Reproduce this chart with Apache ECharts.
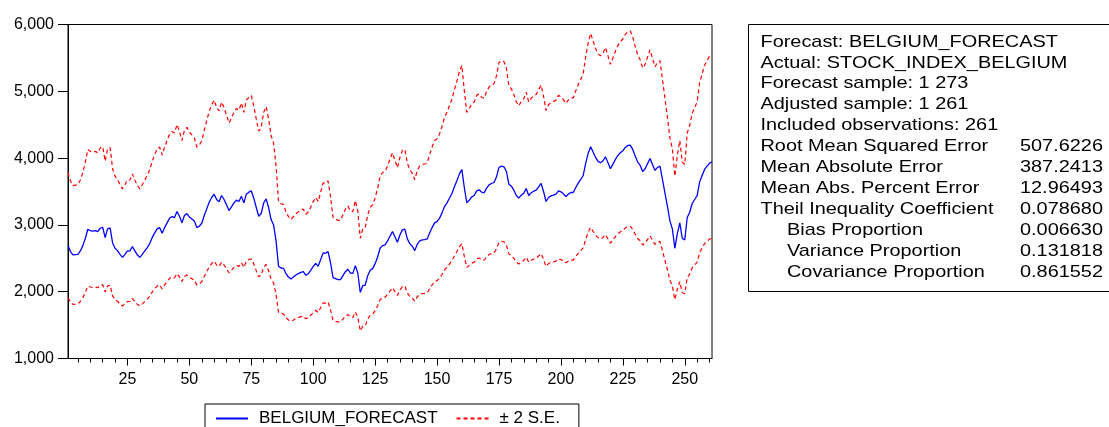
<!DOCTYPE html>
<html>
<head>
<meta charset="utf-8">
<script src="https://cdn.jsdelivr.net/npm/echarts@6/dist/echarts.min.js"></script>
<style>
html,body{margin:0;padding:0;background:#fff;}
#chart{width:1109px;height:427px;}
</style>
</head>
<body>
<div id="chart"></div>
<script>
const categories = Array.from({length: 261}, (_, i) => String(i + 1));

const forecast = [
2690,2600,2550,2555,2560,2610,2690,2800,2935,2915,
2905,2915,2900,2950,2965,2810,2940,2955,2730,2650,
2615,2560,2515,2560,2610,2610,2675,2610,2550,2515,
2560,2610,2660,2720,2810,2880,2940,2960,2875,2960,
3030,3100,3125,3110,3200,3130,3030,3140,3170,3120,
3090,3060,2960,2980,3025,3140,3240,3340,3410,3460,
3380,3345,3440,3380,3300,3215,3270,3330,3370,3350,
3430,3330,3460,3490,3510,3400,3260,3130,3170,3330,
3390,3260,3080,3000,2760,2380,2355,2350,2270,2220,
2190,2220,2250,2270,2290,2300,2245,2270,2320,2380,
2425,2380,2480,2580,2575,2600,2430,2210,2195,2180,
2180,2240,2300,2335,2280,2275,2390,2280,1990,2090,
2100,2240,2320,2345,2420,2520,2650,2690,2700,2760,
2830,2900,2820,2740,2850,2925,2935,2790,2720,2680,
2615,2710,2760,2775,2780,2790,2880,2960,3030,3050,
3100,3180,3275,3330,3400,3470,3570,3660,3760,3830,
3560,3330,3370,3420,3440,3510,3525,3490,3480,3550,
3600,3620,3635,3720,3860,3880,3870,3800,3610,3580,
3520,3440,3400,3445,3475,3545,3440,3480,3505,3520,
3570,3620,3500,3350,3410,3435,3445,3460,3510,3495,
3465,3425,3460,3485,3485,3560,3625,3680,3740,3920,
4070,4170,4090,4010,3950,3930,3960,4020,3930,3840,
3910,3980,4040,4080,4110,4160,4190,4195,4130,4030,
3940,3890,3800,3840,3920,3995,3900,3815,3860,3880,
3680,3480,3280,3060,2940,2650,2870,3030,2800,2775,
3110,3190,3320,3380,3440,3640,3740,3830,3880,3925,
3945
];

const upperBand = [
3785,3658,3588,3595,3602,3672,3785,3940,4130,4101,
4087,4101,4080,4151,4172,3954,4137,4158,3841,3729,
3679,3602,3539,3602,3672,3672,3764,3672,3588,3539,
3602,3672,3743,3827,3954,4052,4137,4165,4045,4165,
4263,4362,4397,4376,4502,4404,4263,4418,4460,4390,
4348,4305,4165,4193,4256,4418,4559,4699,4798,4868,
4756,4706,4840,4756,4643,4524,4601,4685,4742,4714,
4826,4685,4868,4910,4939,4784,4587,4404,4460,4685,
4770,4587,4334,4221,3883,3349,3314,3307,3194,3124,
3081,3124,3166,3194,3222,3236,3159,3194,3264,3349,
3412,3349,3489,3630,3623,3658,3419,3110,3088,3067,
3067,3152,3236,3285,3208,3201,3363,3208,2800,2941,
2955,3152,3264,3299,3405,3546,3729,3785,3799,3883,
3982,4080,3968,3855,4010,4116,4130,3926,3827,3771,
3679,3813,3883,3904,3912,3926,4052,4165,4263,4291,
4362,4474,4608,4685,4784,4882,5023,5150,5290,5389,
5009,4685,4742,4812,4840,4939,4960,4910,4896,4995,
5065,5093,5114,5234,5431,5459,5445,5347,5079,5037,
4953,4840,4784,4847,4889,4988,4840,4896,4932,4953,
5023,5093,4925,4714,4798,4833,4847,4868,4939,4918,
4875,4819,4868,4903,4903,5009,5100,5178,5262,5515,
5727,5867,5755,5642,5558,5530,5572,5656,5530,5403,
5501,5600,5684,5741,5783,5853,5895,5902,5811,5670,
5544,5473,5347,5403,5515,5621,5487,5368,5431,5459,
5178,4896,4615,4305,4137,3729,4038,4263,3940,3904,
4376,4488,4671,4756,4840,5122,5262,5389,5459,5523,
5551
];

const lowerBand = [
1910,1846,1811,1814,1818,1853,1910,1988,2084,2070,
2063,2070,2059,2095,2105,1995,2087,2098,1938,1882,
1857,1818,1786,1818,1853,1853,1899,1853,1811,1786,
1818,1853,1889,1931,1995,2045,2087,2102,2041,2102,
2151,2201,2219,2208,2272,2222,2151,2229,2251,2215,
2194,2173,2102,2116,2148,2229,2300,2371,2421,2457,
2400,2375,2442,2400,2343,2283,2322,2364,2393,2379,
2435,2364,2457,2478,2492,2414,2315,2222,2251,2364,
2407,2315,2187,2130,1960,1690,1672,1669,1612,1576,
1555,1576,1598,1612,1626,1633,1594,1612,1647,1690,
1722,1690,1761,1832,1828,1846,1725,1569,1558,1548,
1548,1590,1633,1658,1619,1615,1697,1619,1413,1484,
1491,1590,1647,1665,1718,1789,1882,1910,1917,1960,
2009,2059,2002,1945,2024,2077,2084,1981,1931,1903,
1857,1924,1960,1970,1974,1981,2045,2102,2151,2166,
2201,2258,2325,2364,2414,2464,2535,2599,2670,2719,
2528,2364,2393,2428,2442,2492,2503,2478,2471,2521,
2556,2570,2581,2641,2741,2755,2748,2698,2563,2542,
2499,2442,2414,2446,2467,2517,2442,2471,2489,2499,
2535,2570,2485,2379,2421,2439,2446,2457,2492,2481,
2460,2432,2457,2474,2474,2528,2574,2613,2655,2783,
2890,2961,2904,2847,2805,2790,2812,2854,2790,2726,
2776,2826,2868,2897,2918,2954,2975,2978,2932,2861,
2797,2762,2698,2726,2783,2836,2769,2709,2741,2755,
2613,2471,2329,2173,2087,1882,2038,2151,1988,1970,
2208,2265,2357,2400,2442,2584,2655,2719,2755,2787,
2801
];

const yTicks = {min: 1000, max: 6000, interval: 1000};

const statLabels = [
  'Forecast: BELGIUM_FORECAST',
  'Actual: STOCK_INDEX_BELGIUM',
  'Forecast sample: 1 273',
  'Adjusted sample: 1 261',
  'Included observations: 261',
  'Root Mean Squared Error',
  'Mean Absolute Error',
  'Mean Abs. Percent Error',
  'Theil Inequality Coefficient',
  'Bias Proportion',
  'Variance Proportion',
  'Covariance Proportion'
];
const statIndented = [false,false,false,false,false,false,false,false,false,true,true,true];
const statValues = ['', '', '', '', '', '507.6226', '387.2413', '12.96493', '0.078680', '0.006630', '0.131818', '0.861552'];

const FONT = '"Liberation Sans", Arial, Helvetica, sans-serif';
const chart = echarts.init(document.getElementById('chart'), null, {renderer: 'canvas'});

const graphics = [{
  type: 'rect',
  shape: {x: 748.5, y: 24.5, width: 400, height: 267},
  style: {fill: '#fff', stroke: '#000', lineWidth: 1},
  z: 10
}];
statLabels.forEach((t, i) => {
  const midY = 42 + i * 20.9;
  graphics.push({
    type: 'text', x: statIndented[i] ? 787 : 760.5, y: midY, scaleX: 1.17, z: 11,
    style: {text: t, font: '17px ' + FONT, fill: '#000', verticalAlign: 'middle', align: 'left'}
  });
  if (statValues[i]) {
    graphics.push({
      type: 'text', x: 1020, y: midY, scaleX: 1.17, z: 11,
      style: {text: statValues[i], font: '17px ' + FONT, fill: '#000', verticalAlign: 'middle', align: 'left'}
    });
  }
});

const fmt = v => v.toLocaleString('en-US');

chart.setOption({
  animation: false,
  backgroundColor: '#fff',
  grid: {left: 68, right: 397, top: 24.5, bottom: 68.5, show: true, borderColor: '#000', borderWidth: 1, containLabel: false},
  legend: {
    data: ['BELGIUM_FORECAST', '± 2 S.E.'],
    left: 205, top: 404,
    padding: [6, 19, 8, 10],
    borderColor: '#000', borderWidth: 1, borderRadius: 0,
    itemWidth: 32, itemHeight: 12, itemGap: 18,
    itemStyle: {opacity: 0, color: 'transparent', borderWidth: 0},
    textStyle: {fontFamily: FONT, fontSize: 17, color: '#000', padding: [0, 0, 0, 6]},
    selectedMode: false
  },
  xAxis: [{
    type: 'category', data: categories, boundaryGap: false,
    axisLine: {show: true, lineStyle: {color: '#000', width: 1}},
    axisTick: {show: true, length: 4, interval: (idx) => (idx + 1) % 5 === 0, lineStyle: {color: '#000'}},
    axisLabel: {interval: (idx) => (idx + 1) % 25 === 0, fontFamily: FONT, fontSize: 16, color: '#000', margin: 13},
    splitLine: {show: false}
  }, {
    type: 'category', data: categories, boundaryGap: false, position: 'bottom', gridIndex: 0,
    axisLine: {show: false},
    axisTick: {show: true, length: 7, interval: (idx) => (idx + 1) % 25 === 0, lineStyle: {color: '#000'}},
    axisLabel: {show: false},
    splitLine: {show: false}
  }],
  yAxis: {
    type: 'value', min: yTicks.min, max: yTicks.max, interval: yTicks.interval,
    axisLine: {show: true, lineStyle: {color: '#000', width: 1}},
    axisTick: {show: true, length: 10, lineStyle: {color: '#000'}},
    axisLabel: {formatter: fmt, fontFamily: FONT, fontSize: 16, color: '#000', margin: 14},
    splitLine: {show: false}
  },
  series: [
    {name: '± 2 S.E.', type: 'line', data: upperBand, symbol: 'none', lineStyle: {color: '#ff0000', width: 1.2, type: [4, 3]}, itemStyle: {color: '#ff0000'}, z: 2},
    {name: '± 2 S.E.', type: 'line', data: lowerBand, symbol: 'none', lineStyle: {color: '#ff0000', width: 1.2, type: [4, 3]}, itemStyle: {color: '#ff0000'}, z: 2},
    {name: 'BELGIUM_FORECAST', type: 'line', data: forecast, symbol: 'none', lineStyle: {color: '#0000ff', width: 1.3}, itemStyle: {color: '#0000ff'}, z: 3}
  ],
  graphic: graphics
});
</script>
</body>
</html>
